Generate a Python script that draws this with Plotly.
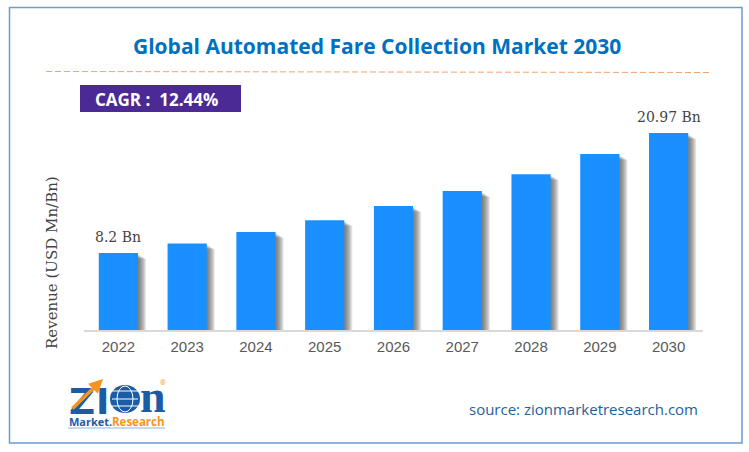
import plotly.graph_objects as go

W, H = 749, 452

# chart data
years = ["2022", "2023", "2024", "2025", "2026", "2027", "2028", "2029", "2030"]
revenue = [8.2, 9.22, 10.44, 11.7, 13.2, 14.8, 16.6, 18.74, 20.97]
bar_labels = ["8.2 Bn", "", "", "", "", "", "", "", "20.97 Bn"]


def px(x):
    return x / W


def py(y):
    return 1 - y / H


def add_text(fig, x, y, text, size, color, family="Open Sans", anchor="center", angle=0):
    fig.add_annotation(x=px(x), y=py(y), xref="paper", yref="paper", text=text, showarrow=False,
                       xanchor=anchor, yanchor="middle", textangle=angle,
                       font=dict(family=family, size=size, color=color))


fig = go.Figure()

# bar width and one screen pixel in category units
bw = 0.57
unit = 1 / 68.75
y_unit = 1 / 9.39

# soft shadow: stacked see-through copies of the bars, pushed right and down
for i in range(1, 9):
    fig.add_trace(go.Bar(x=years, y=[v - (1 + i * 0.6) * y_unit for v in revenue],
                         width=bw, offset=-bw / 2 + i * unit,
                         marker=dict(color="rgba(70,70,70,0.13)", line_width=0),
                         hoverinfo="skip", showlegend=False))

fig.add_trace(go.Bar(x=years, y=revenue, width=bw, offset=-bw / 2,
                     marker=dict(color="#1a8fff", line_width=0), showlegend=False))

# first and last bar labels (category axis takes the position index here)
for pos, (value, label) in enumerate(zip(revenue, bar_labels)):
    if label:
        fig.add_annotation(x=pos, y=value, text=label, showarrow=False, yanchor="bottom", yshift=6,
                           font=dict(family="DejaVu Serif", size=14, color="#444444"))

fig.update_layout(
    width=W, height=H, margin=dict(l=0, r=0, t=0, b=0),
    paper_bgcolor="white", plot_bgcolor="white", barmode="overlay",
    xaxis=dict(domain=[px(84), px(703)], type="category", range=[-0.5, 8.5], showgrid=False,
               showline=True, linecolor="#d9d9d9", linewidth=1.5,
               ticks="outside", ticklen=2, tickcolor="rgba(0,0,0,0)",
               tickfont=dict(family="Liberation Sans", size=15, color="#595959")),
    yaxis=dict(domain=[py(330), py(100)], range=[0, 230 / 9.39], visible=False),
)

# frame, title rule, CAGR box
fig.add_shape(type="rect", xref="paper", yref="paper", x0=px(9.5), x1=px(742), y0=py(7.5), y1=py(443),
              line=dict(color="#6b9bcf", width=1.5))
fig.add_shape(type="line", xref="paper", yref="paper", x0=px(46), x1=px(710), y0=py(71.5), y1=py(72.5),
              line=dict(color="#f5a26b", width=1, dash="6px 3px"))
fig.add_shape(type="rect", xref="paper", yref="paper", x0=px(80), x1=px(241), y0=py(85), y1=py(112),
              fillcolor="#4b2a96", line_width=0)

add_text(fig, 376.5, 46, "<b>Global Automated Fare Collection Market 2030</b>", 21, "#0070c0")
add_text(fig, 156, 99, "<b>CAGR :  12.44%</b>", 17, "white")
add_text(fig, 52, 263, "Revenue (USD Mn/Bn)", 15, "#444444", family="DejaVu Serif", angle=-90)
add_text(fig, 583.5, 409, "source: zionmarketresearch.com", 15, "#1f5f9e")

# logo, drawn with text and simple shapes
logo_blue = "#1b5ca6"
logo_orange = "#f7941d"
add_text(fig, 82, 401, "<b>Z</b>", 36, logo_blue, family="DejaVu Sans")
add_text(fig, 102, 401, "<b>I</b>", 36, logo_blue, family="DejaVu Sans")
add_text(fig, 153, 396, "<b>n</b>", 46, logo_blue, family="Liberation Sans Narrow")
fig.add_shape(type="circle", xref="paper", yref="paper", x0=px(110), x1=px(140), y0=py(385), y1=py(413),
              fillcolor=logo_blue, line_width=0)
fig.add_shape(type="circle", xref="paper", yref="paper", x0=px(117), x1=px(133), y0=py(386), y1=py(412),
              line=dict(color="white", width=1))
for lat in [391, 399, 406]:
    fig.add_shape(type="line", xref="paper", yref="paper", x0=px(112), x1=px(138), y0=py(lat), y1=py(lat),
                  line=dict(color="white", width=1))
fig.add_annotation(x=px(103), y=py(379), ax=-32, ay=31, xref="paper", yref="paper",
                   text="", showarrow=True, arrowhead=2,
                   arrowsize=0.8, arrowwidth=3.5, arrowcolor=logo_orange)
add_text(fig, 90, 421, "<b>Market.</b>", 11, logo_blue)
add_text(fig, 138, 421, "<b>Research</b>", 11.5, logo_orange)
add_text(fig, 163, 382, "®", 7, logo_orange)
fig.add_shape(type="line", xref="paper", yref="paper", x0=px(68), x1=px(165), y0=py(428), y1=py(428),
              line=dict(color="#8fb4dc", width=1))

fig.write_html("out.html", config=dict(displayModeBar=False), post_script="document.body.style.margin='0';")
